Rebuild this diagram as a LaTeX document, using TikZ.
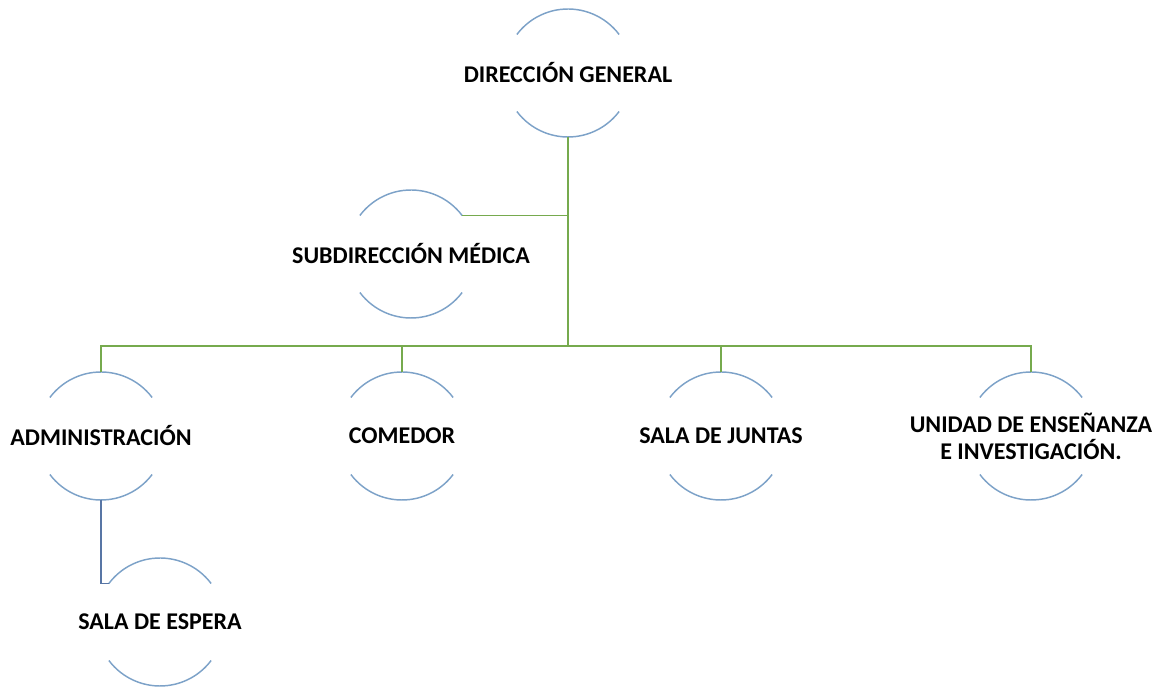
\documentclass[tikz,border=0pt]{standalone}
\usepackage{fontspec}
\setmainfont{Carlito}
\definecolor{arcblue}{RGB}{125,162,200}
\definecolor{linkgreen}{RGB}{118,170,78}
\definecolor{linkblue}{RGB}{88,118,165}
\tikzset{
  ring/.style={circle, minimum size=96pt, inner sep=0pt, outer sep=0pt},
  caption/.style={font=\fontsize{18}{20.5}\selectfont\bfseries, align=center, inner sep=0pt},
  arcline/.style={arcblue, line width=1.1pt},
  link/.style={linkgreen, line width=1.1pt},
  sublink/.style={linkblue, line width=1.1pt}
}

\begin{document}
\begin{tikzpicture}[x=0.75pt, y=0.75pt]
    \useasboundingbox (0, 0) rectangle (1158, 689);

    % units
    \node [ring] (dg) at (568, 616) {};
    \node [caption] (dgt) at (dg) {DIRECCIÓN GENERAL};
    \node [ring] (sub) at (411, 435) {};
    \node [caption] (subt) at (sub) {SUBDIRECCIÓN MÉDICA};
    \node [ring] (adm) at (101, 253) {};
    \node [caption] (admt) at (adm) {ADMINISTRACIÓN};
    \node [ring] (com) at (402, 253) {};
    \node [caption] (comt) at (com) {COMEDOR};
    \node [ring] (jun) at (721, 253) {};
    \node [caption] (junt) at (jun) {SALA DE JUNTAS};
    \node [ring] (una) at (1031, 253) {};
    \node [caption] (unat) at (una) {UNIDAD DE ENSEÑANZA\\E INVESTIGACIÓN.};
    \node [ring] (esp) at (160, 67) {};
    \node [caption] (espt) at (esp) {SALA DE ESPERA};

    % arcs
    \draw [arcline] (dg.37) arc [start angle=37, end angle=143, radius=48pt];
    \draw [arcline] (dg.217) arc [start angle=217, end angle=323, radius=48pt];
    \draw [arcline] (sub.37) arc [start angle=37, end angle=143, radius=48pt];
    \draw [arcline] (sub.217) arc [start angle=217, end angle=323, radius=48pt];
    \draw [arcline] (adm.37) arc [start angle=37, end angle=143, radius=48pt];
    \draw [arcline] (adm.217) arc [start angle=217, end angle=323, radius=48pt];
    \draw [arcline] (com.37) arc [start angle=37, end angle=143, radius=48pt];
    \draw [arcline] (com.217) arc [start angle=217, end angle=323, radius=48pt];
    \draw [arcline] (jun.37) arc [start angle=37, end angle=143, radius=48pt];
    \draw [arcline] (jun.217) arc [start angle=217, end angle=323, radius=48pt];
    \draw [arcline] (una.37) arc [start angle=37, end angle=143, radius=48pt];
    \draw [arcline] (una.217) arc [start angle=217, end angle=323, radius=48pt];
    \draw [arcline] (esp.37) arc [start angle=37, end angle=143, radius=48pt];
    \draw [arcline] (esp.217) arc [start angle=217, end angle=323, radius=48pt];

    % connectors
    \coordinate (bus) at (567, 343);
    \draw [link] (dg.south) -- (dg.south |- bus);
    \draw [link] (sub.37) -- (sub.37 -| dg.south);
    \draw [link] (adm.north) |- (bus) -| (una.north);
    \draw [link] (com.north) -- (com.north |- bus);
    \draw [link] (jun.north) -- (jun.north |- bus);
    \draw [sublink] (adm.south) |- (esp.143);
\end{tikzpicture}
\end{document}
